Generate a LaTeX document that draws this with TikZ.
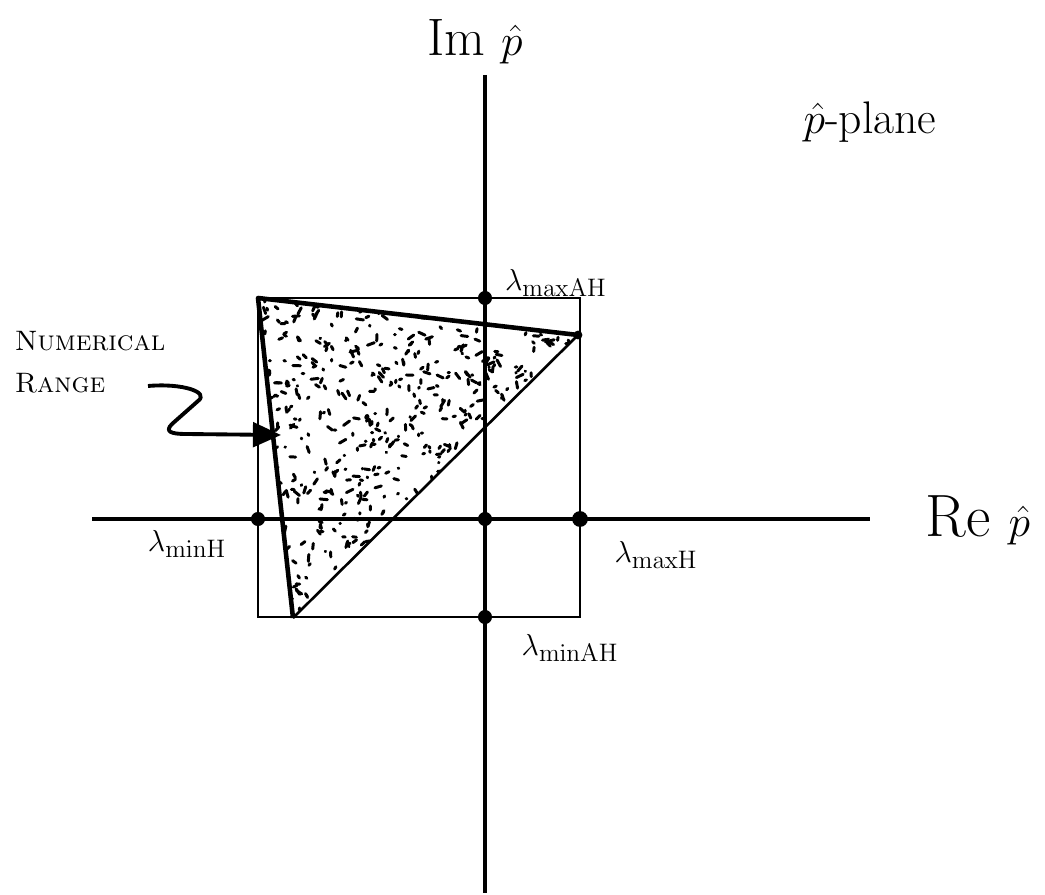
\documentclass[tikz,border=0pt]{standalone}
\usepackage{amsmath,amssymb}
\usepackage{tikz}
\usetikzlibrary{arrows.meta}

\begin{document}
\begin{tikzpicture}[
  x=0.02cm, y=-0.02cm,
  axis/.style={line width=2pt},
  frame/.style={line width=1.2pt},
  edge/.style={line width=2.6pt, line join=round},
  hyp/.style={line width=1.5pt},
  dot/.style={circle, fill, inner sep=0pt, minimum size=8pt},
  speck/.style={line width=1.7pt, line cap=round},
  lbl/.style={inner sep=1pt, font=\fontsize{19}{23}\selectfont},
  arrow/.style={-{Triangle[length=16pt, width=14pt]}, line width=2.2pt, line join=round}
]
\useasboundingbox (0,0) rectangle (1045,895);

% axes
\coordinate (xl) at (92,519);
\coordinate (xr) at (870,519);
\coordinate (yt) at (485,75);
\coordinate (yb) at (485,893);
\draw[axis] (xl) -- (xr);
\draw[axis] (yt) -- (yb);
\node[font=\fontsize{30}{36}\selectfont] (imlbl) at (475,42) {Im $\hat{p}$};
\node[font=\fontsize{34}{40}\selectfont] (relbl) at (978,520) {Re $\hat{p}$};
\node[font=\fontsize{26}{30}\selectfont] (planelbl) at (870,122) {$\hat{p}$-plane};

% bounding box of the range
\draw[frame] (258,298) rectangle (580,617);

% numerical range
\coordinate (tl) at (258,298);
\coordinate (tr) at (578,335);
\coordinate (bl) at (293,618);
\begin{scope}
  \clip (tl) -- (tr) -- (bl) -- cycle;
  \pgfmathsetseed{11}
  \foreach \k in {1,...,760}{
    \pgfmathsetmacro\sx{262+316*rnd}
    \pgfmathsetmacro\sy{300+318*rnd}
    \pgfmathsetmacro\sa{360*rnd}
    \pgfmathsetmacro\sl{0.5+7*rnd}
    \draw[speck] (\sx,\sy) -- ++(\sa:\sl);
  }
\end{scope}
\draw[edge] (bl) -- (tl) -- (tr);
\draw[hyp] (tr) -- (bl);
\fill (tr) circle (2.5pt);

% eigenvalue bounds
\node[dot] (dmaxah) at (485,298) {};
\node[dot] (dminh) at (258,519) {};
\node[dot] (dorig) at (485,519) {};
\node[dot, minimum size=9pt] (dmaxh) at (580,519) {};
\node[dot] (dminah) at (485,617) {};
\node[lbl, anchor=west] (lmaxah) at (503,283) {$\lambda_{\mathrm{maxAH}}$};
\node[lbl] (lminh) at (187,544) {$\lambda_{\mathrm{minH}}$};
\node[lbl] (lmaxh) at (656,555) {$\lambda_{\mathrm{maxH}}$};
\node[lbl] (lminah) at (570,648) {$\lambda_{\mathrm{minAH}}$};

% label with arrow
\node[align=left, inner sep=0pt, font=\fontsize{16}{24}\selectfont] (nrlbl) at (90,362) {\textsc{Numerical}\\\textsc{Range}};
\coordinate (arrstart) at (148,386);
\coordinate (arrtip) at (281,435);
\draw[arrow] (arrstart) .. controls (182,383) and (210,392) .. (198,401)
  -- (172,424) .. controls (164,432) and (172,434) .. (186,434) -- (arrtip);
\end{tikzpicture}
\end{document}
